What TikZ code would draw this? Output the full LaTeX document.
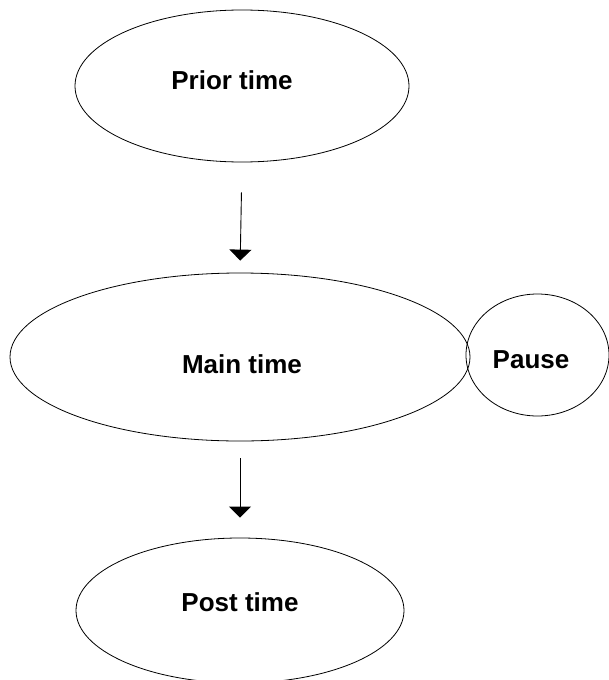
\documentclass[tikz,border=0pt]{standalone}
\usepackage{fontspec}
\setmainfont{Liberation Sans}
\usetikzlibrary{shapes.geometric,arrows.meta}
\begin{document}
\begin{tikzpicture}[x=1pt,y=1pt,
  oval/.style={draw=black,line width=0.8pt,ellipse,inner sep=0pt},
  lbl/.style={font=\fontsize{26}{30}\selectfont\bfseries,inner sep=0pt},
  flow/.style={draw=black,line width=0.9pt,-{Triangle[width=22pt,length=11pt]}}]
\useasboundingbox (0,0) rectangle (609,-680);
\node[oval,minimum width=334pt,minimum height=152pt] (prior) at (242,-86) {};
\node[lbl] (priort) at (232,-80) {Prior time};
\node[oval,minimum width=460pt,minimum height=168pt] (main) at (240,-357) {};
\node[lbl] (maint) at (242,-364) {Main time};
\node[oval,minimum width=143pt,minimum height=122pt] (pause) at (537.5,-355) {};
\node[lbl] (pauset) at (531,-360) {Pause};
\node[oval,minimum width=328pt,minimum height=145pt] (post) at (240,-610.5) {};
\node[lbl] (postt) at (240,-602) {Post time};
\draw[flow,shorten <=30pt,shorten >=12pt] (prior.south) -- (main.north);
\draw[flow,shorten <=17pt,shorten >=20pt] (main.south) -- (post.north);
\end{tikzpicture}
\end{document}
